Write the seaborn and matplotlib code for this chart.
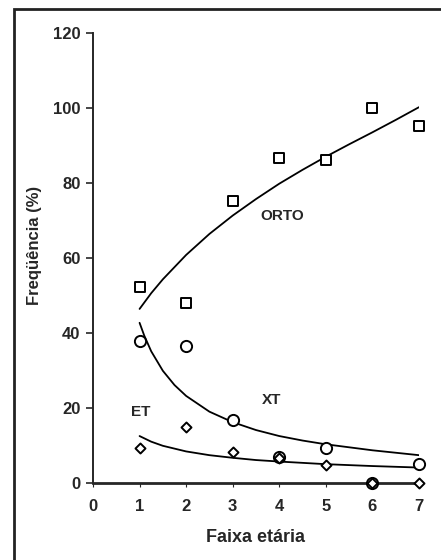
import matplotlib
matplotlib.use("Agg")
import matplotlib.pyplot as plt
import matplotlib.patches as patches
import seaborn as sns
import pandas as pd

# Observed frequencies (%) per age band
faixa = [1, 2, 3, 4, 5, 6, 7]
orto = [52.4, 48.1, 75.3, 86.7, 86.2, 100.0, 95.2]
xt = [38.0, 36.7, 16.8, 6.9, 9.3, 0.0, 5.1]
et = [9.5, 15.0, 8.4, 6.7, 4.8, 0.0, 0.0]

# Trend curves, values
orto_cx = [1, 1.25, 1.5, 2, 2.5, 3, 3.5, 4, 4.5, 5, 5.5, 6, 6.5, 7]
orto_cy = [46.5, 50.7, 54.4, 60.9, 66.5, 71.4, 75.8, 79.9, 83.6, 87.1, 90.4, 93.6, 96.9, 100.3]
xt_cx = [1, 1.1, 1.25, 1.5, 1.75, 2, 2.5, 3, 3.5, 4, 4.5, 5, 6, 7]
xt_cy = [42.8, 39.4, 35.2, 30.0, 26.2, 23.3, 19.1, 16.3, 14.2, 12.6, 11.4, 10.4, 8.8, 7.5]
et_cx = [1, 1.25, 1.5, 2, 2.5, 3, 3.5, 4, 5, 6, 7]
et_cy = [12.6, 11.1, 10.0, 8.5, 7.5, 6.8, 6.2, 5.8, 5.1, 4.6, 4.2]

sns.set_style("ticks")
plt.rcParams['font.family'] = ['Liberation Sans', 'DejaVu Sans']
plt.rcParams['font.weight'] = 'bold'

fig = plt.figure(figsize=(4.41, 5.6), dpi=100)
ax = fig.add_axes([93/441, 1 - 483.3/560, 326/441, 450/560])

# curves
for cx, cy in [(orto_cx, orto_cy), (xt_cx, xt_cy), (et_cx, et_cy)]:
    sns.lineplot(x=cx, y=cy, ax=ax, color='black', linewidth=1.3, sort=False)

# points
pts = pd.DataFrame({'x': faixa * 3, 'y': orto + xt + et,
                    'grupo': ['ORTO'] * 7 + ['XT'] * 7 + ['ET'] * 7})
marks = {'ORTO': ('s', 60), 'XT': ('o', 65), 'ET': ('D', 26)}
for g, (m, s) in marks.items():
    d = pts[pts['grupo'] == g]
    sns.scatterplot(data=d, x='x', y='y', ax=ax, marker=m, s=s,
                    facecolor='white', edgecolor='black', linewidth=1.4,
                    clip_on=False, zorder=5, legend=False)

ax.set_xlim(0, 7)
ax.set_ylim(0, 120)
ax.set_xticks(range(0, 8))
ax.set_yticks(range(0, 121, 20))
ax.tick_params(axis='y', direction='out', length=5, width=1.2, pad=4, labelsize=12)
ax.tick_params(axis='x', direction='out', length=3, width=0.8, pad=8, labelsize=12)
for lab in ax.get_xticklabels() + ax.get_yticklabels():
    lab.set_fontweight('bold')
ax.set_xlabel('')
ax.set_ylabel('')
sns.despine(ax=ax)
ax.spines['left'].set_linewidth(1.4)
ax.spines['bottom'].set_linewidth(2)
ax.spines['bottom'].set_zorder(4)

# curve labels
ax.text(4.06, 71.3, 'ORTO', ha='center', va='center', fontsize=11, fontweight='bold')
ax.text(3.84, 22.1, 'XT', ha='center', va='center', fontsize=11, fontweight='bold')
ax.text(1.03, 19.1, 'ET', ha='center', va='center', fontsize=11, fontweight='bold')

# axis titles
fig.text(255/441, 1 - 538/560, 'Faixa etária', ha='center', va='center',
         fontsize=13, fontweight='bold')
fig.text(34/441, 1 - 245/560, 'Freqüência (%)', ha='center', va='center',
         rotation=90, fontsize=12, fontweight='bold')

# outer frame
frame = patches.Rectangle((14.5/441, -0.1), 1.2, 1.1 - 9/560,
                          transform=fig.transFigure, fill=False,
                          edgecolor='#222222', linewidth=2)
fig.patches.append(frame)

fig.savefig('out.png', dpi=100)
